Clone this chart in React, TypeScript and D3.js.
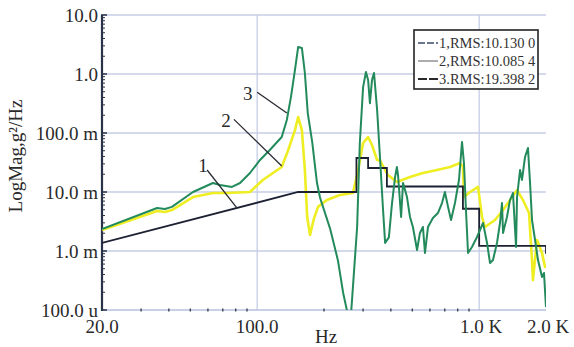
import {useEffect, useRef} from "react";
import * as d3 from "d3";

type Pt = [number, number];

// axis ticks
const xTicks = [20, 100, 1000, 2000];
const xTickLabels = ["20.0", "100.0", "1.0 K", "2.0 K"];
const yTicks = [1e-4, 1e-3, 1e-2, 1e-1, 1, 10];
const yTickLabels = ["100.0 u", "1.0 m", "10.0 m", "100.0 m", "1.0", "10.0"];

// [Hz, g^2/Hz]
const profile1: Pt[] = [
    [20, 0.00137], [153, 0.01], [280, 0.01], [280, 0.0377], [316, 0.0377], [316, 0.0255],
    [384, 0.0255], [384, 0.0124], [845, 0.0124], [845, 0.0052], [1000, 0.0052],
    [1000, 0.00122], [2000, 0.00122], [2000, 0.0009],
];

const response2: Pt[] = [
    [20, 0.00227], [35.4, 0.00476], [38.4, 0.00458], [41.3, 0.00495], [51.4, 0.0082],
    [63.2, 0.0096], [73.1, 0.0096], [92.8, 0.01], [106, 0.016], [129, 0.0265], [138, 0.0515],
    [148, 0.112], [153, 0.187], [159, 0.112], [164, 0.0236], [168, 0.00377], [173, 0.00187],
    [180, 0.0035], [188, 0.0056], [206, 0.0073], [236, 0.0089], [270, 0.0096], [285, 0.0236],
    [300, 0.0677], [316, 0.0855], [329, 0.0626], [347, 0.0349], [358, 0.034], [377, 0.0236],
    [388, 0.0194], [426, 0.0148], [488, 0.0179], [558, 0.021], [646, 0.0236], [739, 0.0265],
    [820, 0.031], [845, 0.027], [854, 0.0082], [910, 0.01], [988, 0.0122], [1030, 0.00377],
    [1062, 0.00255], [1178, 0.00335], [1281, 0.00495], [1377, 0.0073], [1481, 0.0108],
    [1575, 0.0073], [1677, 0.0044], [1730, 0.0007], [1747, 0.00032], [1822, 0.00154],
    [1919, 0.000925], [1980, 0.000536], [2000, 0.00058],
];

const response3: Pt[] = [
    [20, 0.00236], [35.4, 0.00536], [38.4, 0.00515], [41.3, 0.0056], [51.4, 0.01], [63.2, 0.0142],
    [68, 0.0131], [77, 0.0122], [83.7, 0.0142], [92.8, 0.021], [103, 0.0349], [114, 0.0515],
    [129, 0.0855], [136, 0.166], [142, 0.41], [148, 1.17], [153, 2.87], [159, 2.76], [164, 1.04],
    [169, 0.218], [177, 0.07], [186, 0.0142], [192, 0.008], [213, 0.0024], [231, 0.0007],
    [244, 0.000194], [255, 0.00009], [265, 0.00009], [282, 0.00255], [290, 0.0677], [300, 0.6],
    [309, 1.08], [316, 0.79], [322, 0.32], [329, 0.79], [336, 1.04], [347, 0.245], [358, 0.0349],
    [369, 0.005], [377, 0.00137], [392, 0.0017], [405, 0.0065], [418, 0.0179], [426, 0.0265],
    [431, 0.0194], [445, 0.00377], [454, 0.0142], [473, 0.0082], [488, 0.00377], [503, 0.00255],
    [525, 0.00104], [541, 0.00202], [558, 0.00255], [570, 0.000925], [588, 0.00255],
    [619, 0.00362], [652, 0.0044], [680, 0.0065], [701, 0.01], [724, 0.0056], [747, 0.00335],
    [778, 0.0065], [811, 0.016], [837, 0.0703], [854, 0.031], [872, 0.00495], [891, 0.000925],
    [928, 0.00117], [978, 0.00173], [1009, 0.00227], [1041, 0.00298], [1085, 0.00137],
    [1119, 0.000627], [1154, 0.000703], [1203, 0.00137], [1241, 0.00298], [1267, 0.0065],
    [1281, 0.00202], [1334, 0.00377], [1377, 0.0073], [1420, 0.0096], [1466, 0.00117],
    [1481, 0.0082], [1528, 0.0236], [1559, 0.016], [1609, 0.0392], [1659, 0.0557],
    [1695, 0.0142], [1730, 0.00335], [1785, 0.00154], [1841, 0.000703], [1919, 0.000362],
    [1959, 0.000424], [2000, 0.000112],
];

const legendLabels = ["1,RMS:10.130 0", "2,RMS:10.085 4", "3.RMS:19.398 2"];

// curve callouts: label, label pos, leader start, leader end (data units)
const callouts: {text: string; at: Pt; from: Pt; to: Pt}[] = [
    {text: "3", at: [90.8, 0.476], from: [100, 0.49], to: [136, 0.218]},
    {text: "2", at: [72.4, 0.166], from: [78.6, 0.17], to: [129, 0.0276]},
    {text: "1", at: [57, 0.0287], from: [59.5, 0.0236], to: [81, 0.0054]},
];

const FONT = "'Liberation Serif', 'Times New Roman', serif";

export default function App() {
    const ref = useRef<SVGSVGElement>(null);

    useEffect(() => {
        const el = ref.current;
        if(!el) return;
        const svg = d3.select(el);
        svg.selectAll("*").remove();

        const x = d3.scaleLog().domain([20, 2000]).range([102, 546]);
        const y = d3.scaleLog().domain([1e-4, 10]).range([310, 15]);
        const [x0, x1] = x.range();
        const [y0, y1] = y.range();

        svg.append("defs").append("clipPath").attr("id", "plot")
            .append("rect").attr("x", x0).attr("y", y1).attr("width", x1 - x0).attr("height", y0 - y1);

        // grid
        const grid = svg.append("g").attr("stroke", "#c6cde6").attr("stroke-width", 1.3);
        yTicks.slice(1).forEach((v) => {
            grid.append("line").attr("x1", x0).attr("x2", x1).attr("y1", y(v)).attr("y2", y(v));
        });
        [100, 1000].forEach((f) => {
            grid.append("line").attr("x1", x(f)).attr("x2", x(f)).attr("y1", y1).attr("y2", y0);
        });
        // bottom axis line
        svg.append("line").attr("x1", x0).attr("x2", x1).attr("y1", y0).attr("y2", y0)
            .attr("stroke", "#b7bfdc").attr("stroke-width", 1.5);

        // x minor ticks
        const xMinor: number[] = [];
        [10, 100, 1000].forEach((d) => d3.range(2, 10).forEach((m) => {
            const f = m * d;
            if(f > 20 && f < 2000) xMinor.push(f);
        }));
        svg.append("g").selectAll("line").data(xMinor).join("line")
            .attr("x1", (d) => x(d)).attr("x2", (d) => x(d))
            .attr("y1", y0 - 1.5).attr("y2", y0 + 1.5)
            .attr("stroke", "#3a4258").attr("stroke-width", 1.4);

        // left axis
        const yMinor: number[] = [];
        [1e-4, 1e-3, 1e-2, 1e-1, 1].forEach((d) => d3.range(2, 10).forEach((m) => yMinor.push(m * d)));
        svg.append("g").selectAll("line").data(yMinor).join("line")
            .attr("x1", x0).attr("x2", x0 + 3)
            .attr("y1", (d) => y(d)).attr("y2", (d) => y(d))
            .attr("stroke", "#2a3248").attr("stroke-width", 1);
        svg.append("g").selectAll("line").data(yTicks).join("line")
            .attr("x1", x0 - 1).attr("x2", x0 + 5)
            .attr("y1", (d) => y(d)).attr("y2", (d) => y(d))
            .attr("stroke", "#2a3248").attr("stroke-width", 1.5);
        svg.append("line").attr("x1", x0).attr("x2", x0).attr("y1", y1).attr("y2", y0 + 1)
            .attr("stroke", "#2a3248").attr("stroke-width", 2.2);

        // tick labels
        svg.append("g").selectAll("text").data(yTicks).join("text")
            .attr("x", x0 - 4).attr("y", (d) => y(d)).attr("dy", "0.35em")
            .attr("text-anchor", "end").attr("font-family", FONT).attr("font-size", 19)
            .attr("fill", "#2a2a2a")
            .text((d, i) => yTickLabels[i]);
        svg.append("g").selectAll("text").data(xTicks).join("text")
            .attr("x", (d) => x(d) + (d >= 1000 ? 2 : 0)).attr("y", 333)
            .attr("text-anchor", "middle").attr("font-family", FONT).attr("font-size", 19)
            .attr("fill", "#2a2a2a")
            .text((d, i) => xTickLabels[i]);

        // axis titles
        svg.append("text").attr("x", 326).attr("y", 343).attr("text-anchor", "middle")
            .attr("font-family", FONT).attr("font-size", 19).attr("fill", "#2a2a2a").text("Hz");
        svg.append("text").attr("transform", "translate(22,156) rotate(-90)").attr("text-anchor", "middle")
            .attr("font-family", FONT).attr("font-size", 19).attr("fill", "#2a2a2a")
            .text("LogMag,g²/Hz");

        // curves
        const line = d3.line<Pt>().x((d) => x(d[0])).y((d) => y(d[1]));
        const plot = svg.append("g").attr("clip-path", "url(#plot)");
        plot.append("path").datum(response2).attr("d", line).attr("fill", "none")
            .attr("stroke", "#eeee22").attr("stroke-width", 2.6).attr("stroke-linejoin", "round");
        plot.append("path").datum(profile1).attr("d", line).attr("fill", "none")
            .attr("stroke", "#1c2233").attr("stroke-width", 1.8);
        plot.append("path").datum(response3).attr("d", line).attr("fill", "none")
            .attr("stroke", "#238a5c").attr("stroke-width", 2).attr("stroke-linejoin", "round");

        // callouts
        callouts.forEach((c) => {
            svg.append("line")
                .attr("x1", x(c.from[0])).attr("y1", y(c.from[1]))
                .attr("x2", x(c.to[0])).attr("y2", y(c.to[1]))
                .attr("stroke", "#2a2a33").attr("stroke-width", 1.3);
            svg.append("text").attr("x", x(c.at[0])).attr("y", y(c.at[1])).attr("dy", "0.35em")
                .attr("text-anchor", "middle").attr("font-family", FONT).attr("font-size", 19)
                .attr("fill", "#2a2a2a").text(c.text);
        });

        // legend
        const lg = svg.append("g").attr("transform", "translate(414,30)");
        lg.append("rect").attr("width", 124).attr("height", 59).attr("fill", "#fff")
            .attr("stroke", "#222").attr("stroke-width", 1.6);
        const styles = [
            {stroke: "#3b4a6b", dash: "7,2", w: 1.4},
            {stroke: "#8a8a8a", dash: null, w: 1.4},
            {stroke: "#2a2a2a", dash: "9,2", w: 2},
        ];
        legendLabels.forEach((t, i) => {
            const cy = 13 + i * 18;
            lg.append("line").attr("x1", 4).attr("x2", 24).attr("y1", cy).attr("y2", cy)
                .attr("stroke", styles[i].stroke).attr("stroke-width", styles[i].w)
                .attr("stroke-dasharray", styles[i].dash);
            lg.append("text").attr("x", 25).attr("y", cy).attr("dy", "0.35em")
                .attr("font-family", FONT).attr("font-size", 14.5).attr("fill", "#333").text(t);
        });
    }, []);

    return (
        <svg ref={ref} width={574} height={347}
            style={{position: "absolute", left: 0, top: 0, background: "#fff", display: "block"}} />
    );
}
